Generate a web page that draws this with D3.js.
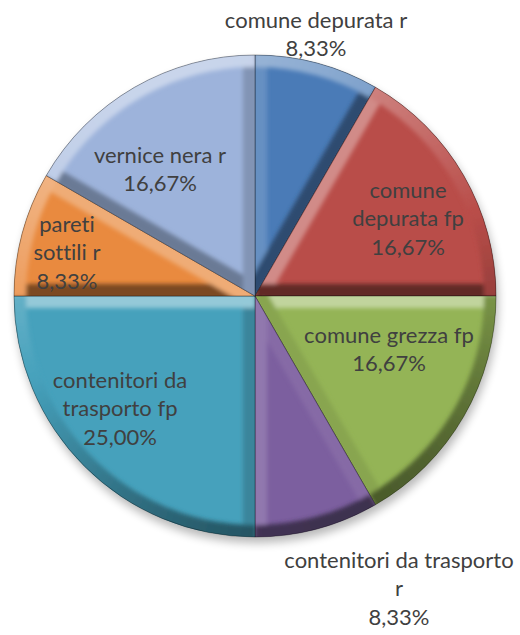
<!DOCTYPE html>
<html>
<head>
<meta charset="utf-8">
<script src="https://cdn.jsdelivr.net/npm/d3@7"></script>
<style>
  html, body { margin: 0; padding: 0; background: #ffffff; }
  svg { display: block; }
  .lbl { font-family: Lato, "Open Sans", sans-serif; font-size: 22px; fill: #404040;
         font-variant-ligatures: none; font-feature-settings: "liga" 0; }
</style>
</head>
<body>
<svg id="chart" width="520" height="635"></svg>
<script>
// Pie slices, clockwise from 12 o'clock
const categories = [
  "comune depurata r",
  "comune depurata fp",
  "comune grezza fp",
  "contenitori da trasporto r",
  "contenitori da trasporto fp",
  "pareti sottili r",
  "vernice nera r"
];
const values = [8.33, 16.67, 16.67, 8.33, 25.00, 8.33, 16.67];
const colors = ["#4a7bb7", "#b94d49", "#94b456", "#7c5f9f", "#46a1bc", "#e98a3f", "#9db3db"];
// Label lines as drawn for each slice (name broken where it wraps, then percentage)
const labelLines = [
  ["comune depurata r"],
  ["comune", "depurata fp"],
  ["comune grezza fp"],
  ["contenitori da trasporto", "r"],
  ["contenitori da", "trasporto fp"],
  ["pareti", "sottili r"],
  ["vernice nera r"]
];
// Label anchor (centre of first line) in page pixels
const labelPos = [
  [316, 20], [408, 190], [389, 335], [399, 560], [120, 380], [67, 224], [160, 155]
];

const fmt = v => d3.format(".2f")(v).replace(".", ",") + "%";

const svg = d3.select("#chart");
const cx = 255, cy = 296, R = 241, bevel = 12;
const lineH = 28.5;

const defs = svg.append("defs");
defs.append("filter").attr("id", "shadow").attr("x", "-20%").attr("y", "-20%").attr("width", "140%").attr("height", "140%")
  .append("feGaussianBlur").attr("stdDeviation", 5);
defs.append("filter").attr("id", "soft").attr("x", "-10%").attr("y", "-10%").attr("width", "120%").attr("height", "120%")
  .append("feGaussianBlur").attr("stdDeviation", 2);

const pie = d3.pie().sort(null).value(d => d)(values);
const arc = d3.arc().innerRadius(0).outerRadius(R);

const g = svg.append("g").attr("transform", `translate(${cx},${cy})`);

// soft shadow under the pie
g.append("circle").attr("cx", 2).attr("cy", 6).attr("r", R)
  .attr("fill", "#000").attr("opacity", 0.28).attr("filter", "url(#shadow)");

// light direction (towards the light), top / slightly left
const L = (() => { const x = -0.35, y = -0.94, n = Math.hypot(x, y); return [x / n, y / n]; })();
function shade(base, nx, ny) {
  const s = nx * L[0] + ny * L[1];
  return s >= 0 ? d3.interpolateRgb(base, "#ffffff")(s * 0.45) : d3.interpolateRgb(base, "#000000")(-s * 0.5);
}

pie.forEach((d, i) => {
  const base = colors[i];
  const id = "clip" + i;
  defs.append("clipPath").attr("id", id).append("path").attr("d", arc(d));

  const sg = g.append("g");
  sg.append("path").attr("d", arc(d)).attr("fill", base);

  const bev = sg.append("g").attr("clip-path", `url(#${id})`)
    .append("g").attr("filter", "url(#soft)");

  // radial edges
  [[d.startAngle, -1], [d.endAngle, 1]].forEach(([a, sgn]) => {
    const ux = Math.sin(a), uy = -Math.cos(a);          // along the radius
    const nx = sgn * Math.cos(a), ny = sgn * Math.sin(a); // outward normal of this edge
    const ix = -nx * bevel, iy = -ny * bevel;
    const p0 = [nx * 3, ny * 3], p1 = [ux * (R + 5) + nx * 3, uy * (R + 5) + ny * 3];
    const p2 = [ux * (R + 5) + ix, uy * (R + 5) + iy], p3 = [ix, iy];
    bev.append("path")
      .attr("d", "M" + [p0, p1, p2, p3].map(p => p.join(",")).join("L") + "Z")
      .attr("fill", shade(base, nx, ny));
  });

  // outer rim, split into small pieces so each gets its own shading
  const steps = Math.max(4, Math.ceil((d.endAngle - d.startAngle) / 0.03));
  const rim = d3.arc().innerRadius(R - bevel).outerRadius(R + 4);
  for (let k = 0; k < steps; k++) {
    const a0 = d.startAngle + (d.endAngle - d.startAngle) * k / steps;
    const a1 = d.startAngle + (d.endAngle - d.startAngle) * (k + 1) / steps;
    const am = (a0 + a1) / 2;
    bev.append("path")
      .attr("d", rim({ startAngle: a0 - 0.004, endAngle: a1 + 0.004 }))
      .attr("fill", shade(base, Math.sin(am), -Math.cos(am)));
  }

  sg.append("path").attr("d", arc(d)).attr("fill", "none")
    .attr("stroke", "rgba(0,0,0,0.35)").attr("stroke-width", 1);
});

// labels
pie.forEach((d, i) => {
  const lines = labelLines[i].concat([fmt(values[i])]);
  const t = svg.append("text").attr("class", "lbl").attr("text-anchor", "middle")
    .attr("x", labelPos[i][0]).attr("y", labelPos[i][1]);
  lines.forEach((ln, j) => {
    t.append("tspan").attr("x", labelPos[i][0]).attr("dy", j === 0 ? "0.35em" : lineH).text(ln);
  });
});
</script>
</body>
</html>
